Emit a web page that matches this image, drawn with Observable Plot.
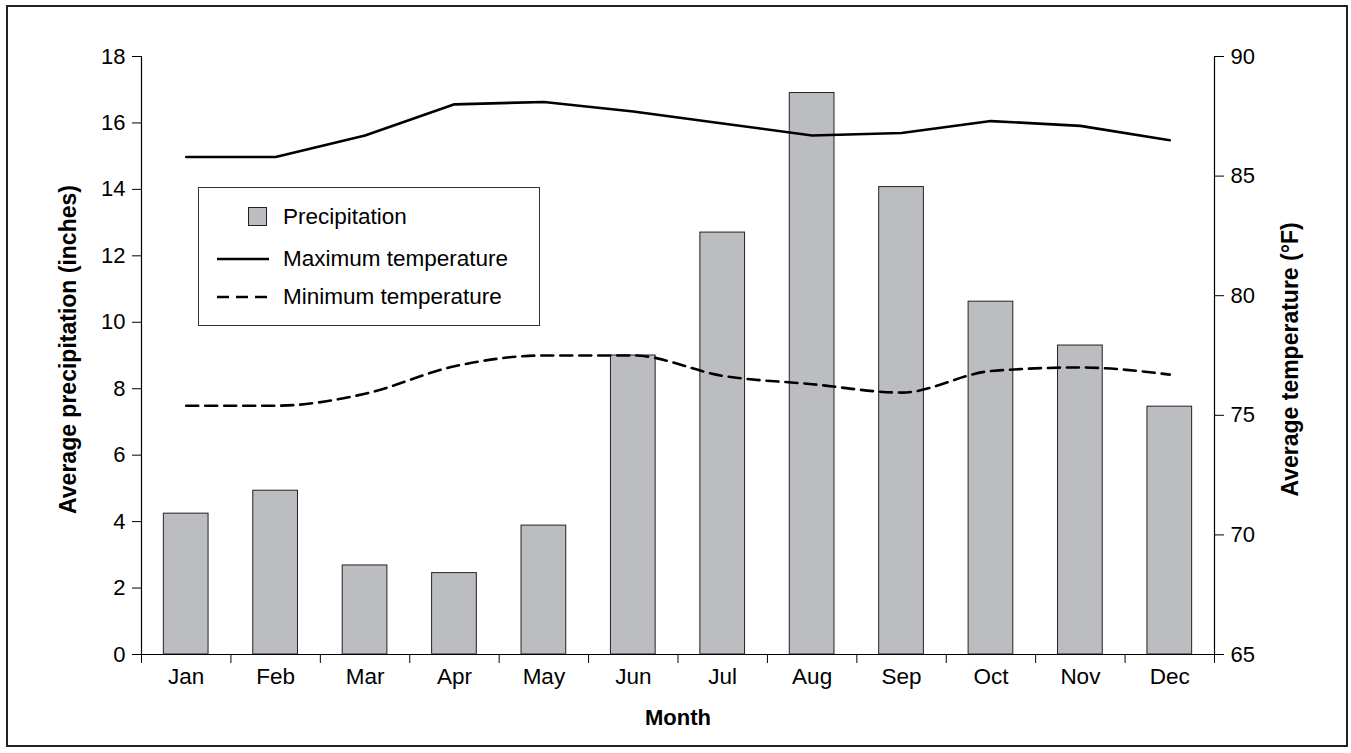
<!DOCTYPE html>
<html>
<head>
<meta charset="utf-8">
<script src="https://cdn.jsdelivr.net/npm/d3@7"></script>
<script src="https://cdn.jsdelivr.net/npm/@observablehq/plot@0.6"></script>
<style>
  html, body { margin: 0; padding: 0; background: #fff; }
  #chart { position: relative; width: 1351px; height: 753px; font-family: "Liberation Sans", Arial, sans-serif; }
  #chart svg { position: absolute; left: 0; top: 0; }
  #border { position: absolute; left: 6px; top: 5px; width: 1338px; height: 738px; border: 2px solid #222; box-sizing: content-box; }
  #legend { position: absolute; left: 198px; top: 187px; width: 342px; height: 139px; border: 1.5px solid #333; background: #fff; box-sizing: border-box; font-size: 22.5px; color: #000; }
  .row { position: absolute; left: 0; height: 26px; display: flex; align-items: center; }
  .row svg { position: static !important; }
  .row span { position: absolute; left: 84px; white-space: nowrap; }
</style>
</head>
<body>
<div id="chart">
  <div id="border"></div>
</div>
<script>
// Monthly climate normals
const months = ["Jan", "Feb", "Mar", "Apr", "May", "Jun", "Jul", "Aug", "Sep", "Oct", "Nov", "Dec"];
const precipitation = [4.24, 4.93, 2.68, 2.45, 3.88, 9.0, 12.7, 16.9, 14.07, 10.62, 9.3, 7.46];
const maxTemp = [85.8, 85.8, 86.7, 88.0, 88.1, 87.7, 87.2, 86.7, 86.8, 87.3, 87.1, 86.5];
const minTemp = [75.4, 75.4, 75.9, 77.05, 77.5, 77.5, 76.65, 76.3, 75.95, 76.85, 77.0, 76.7];
const precipTicks = d3.range(0, 19, 2);
const tempTicks = d3.range(65, 91, 5);

const rows = months.map((m, i) => ({i, month: m, precip: precipitation[i], tmax: maxTemp[i], tmin: minTemp[i]}));

const W = 1351, H = 753;
const margins = {marginLeft: 141, marginRight: 137, marginTop: 56, marginBottom: 99};
const font = {fontFamily: "'Liberation Sans', Arial, sans-serif", fontSize: "22px", color: "#000", background: "transparent", overflow: "visible"};

// Month index scale: each month occupies one unit, bars fill the middle half
const xScale = {type: "linear", domain: [0, 12], axis: null};

// Precipitation bars with left axis and month axis
const bars = Plot.plot({
  width: W, height: H, ...margins,
  style: font,
  x: xScale,
  y: {domain: [0, 18], axis: null},
  marks: [
    Plot.rectY(rows, {x1: d => d.i + 0.25, x2: d => d.i + 0.75, y: "precip", fill: "#bcbdc1", stroke: "#222", strokeWidth: 1}),
    Plot.axisY({ticks: precipTicks, anchor: "left", tickSize: 9, tickPadding: 7, label: null, fontSize: 22}),
    Plot.axisX({ticks: d3.range(13), anchor: "bottom", tickSize: 9, tickFormat: () => "", label: null}),
    Plot.axisX({ticks: months.map((m, i) => i + 0.5), anchor: "bottom", tickSize: 0, tickPadding: 14,
      tickFormat: v => months[Math.floor(v)], label: null, fontSize: 22.5}),
    Plot.ruleX([0], {stroke: "#000", strokeWidth: 1.2}),
    Plot.ruleX([12], {stroke: "#000", strokeWidth: 1.2}),
    Plot.ruleY([0], {stroke: "#000", strokeWidth: 1.2}),
    Plot.text(["Average precipitation (inches)"], {frameAnchor: "left", textAnchor: "middle", lineAnchor: "middle", dx: -73, dy: -6, rotate: -90, fontWeight: "bold", fontSize: 23, fill: "#000"}),
    Plot.text(["Month"], {frameAnchor: "bottom", textAnchor: "middle", lineAnchor: "middle", dy: 63, fontWeight: "bold", fontSize: 22, fill: "#000"})
  ]
});

// Temperature lines with right axis
const temps = Plot.plot({
  width: W, height: H, ...margins,
  style: font,
  x: xScale,
  y: {domain: [65, 90], axis: null},
  marks: [
    Plot.axisY({ticks: tempTicks, anchor: "right", tickSize: 9, tickPadding: 7, label: null, fontSize: 22}),
    Plot.line(rows, {x: d => d.i + 0.5, y: "tmax", stroke: "#000", strokeWidth: 2.6, curve: "linear"}),
    Plot.line(rows, {x: d => d.i + 0.5, y: "tmin", stroke: "#000", strokeWidth: 2.6, strokeDasharray: "12,7", curve: "monotone-x"}),
    Plot.text(["Average temperature (°F)"], {frameAnchor: "right", textAnchor: "middle", lineAnchor: "middle", dx: 76, dy: 4, rotate: -90, fontWeight: "bold", fontSize: 23, fill: "#000"})
  ]
});

const chart = document.getElementById("chart");
chart.appendChild(bars);
chart.appendChild(temps);

// Legend box inside the plot area
const legend = document.createElement("div");
legend.id = "legend";
const items = [
  {label: "Precipitation", type: "swatch", top: 16},
  {label: "Maximum temperature", type: "solid", top: 58},
  {label: "Minimum temperature", type: "dashed", top: 96}
];
for (const it of items) {
  const row = document.createElement("div");
  row.className = "row";
  row.style.top = it.top + "px";
  const svg = d3.create("svg").attr("width", 80).attr("height", 26);
  if (it.type === "swatch") {
    svg.append("rect").attr("x", 49.5).attr("y", 3.5).attr("width", 18).attr("height", 18)
      .attr("fill", "#bcbdc1").attr("stroke", "#222").attr("stroke-width", 1);
  } else {
    svg.append("line").attr("x1", 18).attr("x2", 70).attr("y1", 13).attr("y2", 13)
      .attr("stroke", "#000").attr("stroke-width", 2.6)
      .attr("stroke-dasharray", it.type === "dashed" ? "12,7" : null);
  }
  row.appendChild(svg.node());
  const span = document.createElement("span");
  span.textContent = it.label;
  row.appendChild(span);
  legend.appendChild(row);
}
chart.appendChild(legend);
</script>
</body>
</html>
